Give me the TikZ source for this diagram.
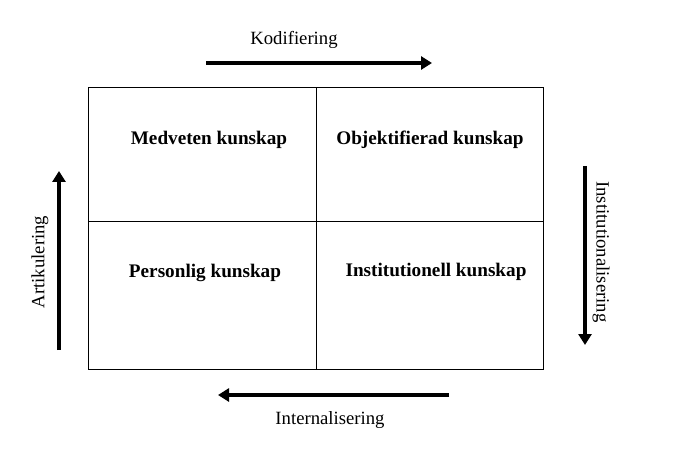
\documentclass[tikz,border=0pt]{standalone}
\usepackage{fontspec}
\setmainfont{Liberation Serif}
\usetikzlibrary{arrows.meta}

\tikzset{
  flow/.style={line width=4pt, -{Triangle[length=11pt,width=13pt]}},
  cell/.style={font=\fontsize{19.2}{22}\selectfont\bfseries},
  flowlabel/.style={font=\fontsize{18.7}{21}\selectfont}
}

\begin{document}
\begin{tikzpicture}[x=1pt, y=1pt]
  \useasboundingbox (0,0) rectangle (679,466);
  \draw[line width=0.8pt] (88,97) rectangle (543,379);
  \draw[line width=0.8pt] (316,97) -- (316,379);
  \draw[line width=0.8pt] (88,245) -- (543,245);
  \node[cell] (medveten) at (209,326) {Medveten kunskap};
  \node[cell] (objekt) at (430,326) {Objektifierad kunskap};
  \node[cell] (personlig) at (205,193) {Personlig kunskap};
  \node[cell] (institutionell) at (436,194) {Institutionell kunskap};
  % arrow ends
  \coordinate (kodA) at (206,403); \coordinate (kodB) at (432,403);
  \coordinate (insA) at (585,300); \coordinate (insB) at (585,121);
  \coordinate (intA) at (449,71); \coordinate (intB) at (218,71);
  \coordinate (artA) at (59,116); \coordinate (artB) at (59,295);
  \draw[flow] (kodA) -- (kodB);
  \draw[flow] (insA) -- (insB);
  \draw[flow] (intA) -- (intB);
  \draw[flow] (artA) -- (artB);
  \node[flowlabel] (kod) at (294,426) {Kodifiering};
  \node[flowlabel, rotate=-90] (ins) at (601,214) {Institutionalisering};
  \node[flowlabel] (int) at (330,46) {Internalisering};
  \node[flowlabel, rotate=90] (art) at (40,204) {Artikulering};
\end{tikzpicture}
\end{document}
